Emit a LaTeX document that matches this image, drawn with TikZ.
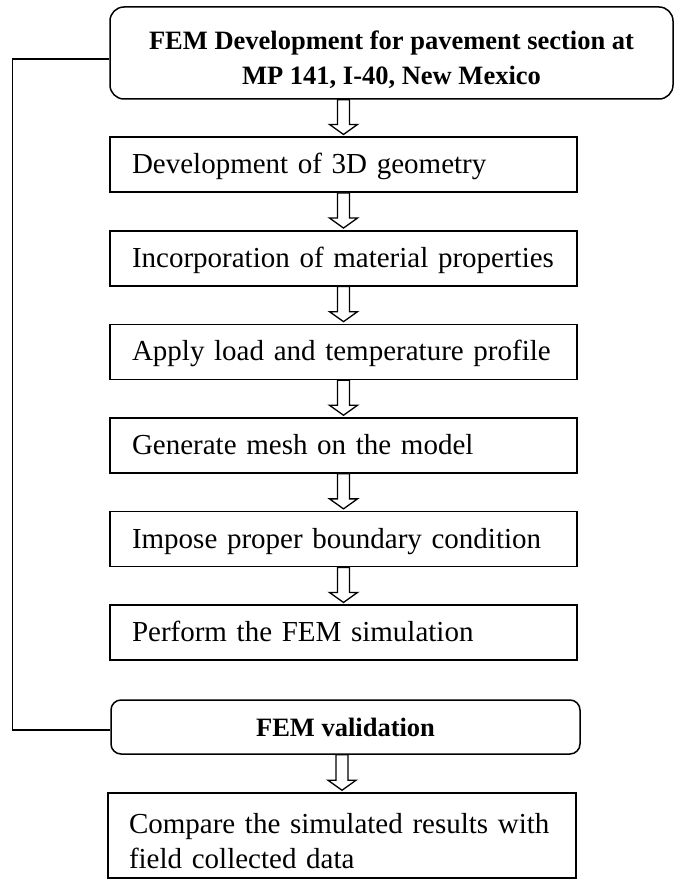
\documentclass[tikz,border=0pt]{standalone}
\usepackage{fontspec}
\setmainfont{Liberation Serif}
\usetikzlibrary{calc}

% hollow block arrow from the bottom of #1 down to the top of #2
\newcommand\flowarrow[2]{%
  \draw[arrowline] let \p1=(#2.north), \p2=(#1.south) in
    (\x1-6pt,\y2) -- (\x1+6pt,\y2) -- (\x1+6pt,\y1+12pt) -- (\x1+14pt,\y1+12pt)
    -- (\x1,\y1+2pt) -- (\x1-14pt,\y1+12pt) -- (\x1-6pt,\y1+12pt) -- cycle;}

\begin{document}
\begin{tikzpicture}[x=1pt,y=1pt,
  boxbase/.style={draw, line width=1.5pt, minimum width=467pt, text width=423pt,
    inner xsep=22pt, inner ysep=0pt, align=left, font=\fontsize{29}{35}\selectfont},
  stepbox/.style={boxbase, minimum height=55pt, text height=24pt, text depth=6pt},
  roundbox/.style={draw, line width=1.5pt, rounded corners=12pt, inner sep=0pt,
    align=center, font=\fontsize{26.5}{35}\selectfont\bfseries},
  arrowline/.style={line width=1.3pt, fill=white, line join=miter},
  link/.style={line width=1.5pt}]
\useasboundingbox (0,0) rectangle (674,-880);

% header
\node[roundbox, minimum width=563pt, minimum height=92pt, rounded corners=14pt] (top) at (391.5,-53)
  {\rule{0pt}{33pt}FEM Development for pavement section at\\MP 141, I-40, New Mexico};

% modelling steps
\node[stepbox] (s1) at (343.5,-164.7) {Development of 3D geometry};
\node[stepbox] (s2) at (343.5,-258.3) {Incorporation of material properties};
\node[stepbox] (s3) at (343.5,-351.9) {Apply load and temperature profile};
\node[stepbox] (s4) at (343.5,-445.5) {Generate mesh on the model};
\node[stepbox] (s5) at (343.5,-539.1) {Impose proper boundary condition};
\node[stepbox] (s6) at (343.5,-632.7) {Perform the FEM simulation};

% validation
\node[roundbox, minimum width=469pt, minimum height=54pt, rounded corners=10pt] (val) at (345.5,-727)
  {FEM validation};
\node[boxbase, minimum width=468pt, text width=426pt, inner xsep=21pt, minimum height=85pt] (cmp) at (342,-835.5)
  {\rule{0pt}{32pt}Compare the simulated results with\\field collected data};

% arrows between stages
\flowarrow{top}{s1}
\flowarrow{s1}{s2}
\flowarrow{s2}{s3}
\flowarrow{s3}{s4}
\flowarrow{s4}{s5}
\flowarrow{s5}{s6}
\flowarrow{val}{cmp}

% feedback line from the header to the validation box
\draw[link] ($(top.west)+(0,-6)$) -- ++(-97,0) |- ($(val.west)+(0,-3)$);
\end{tikzpicture}
\end{document}
